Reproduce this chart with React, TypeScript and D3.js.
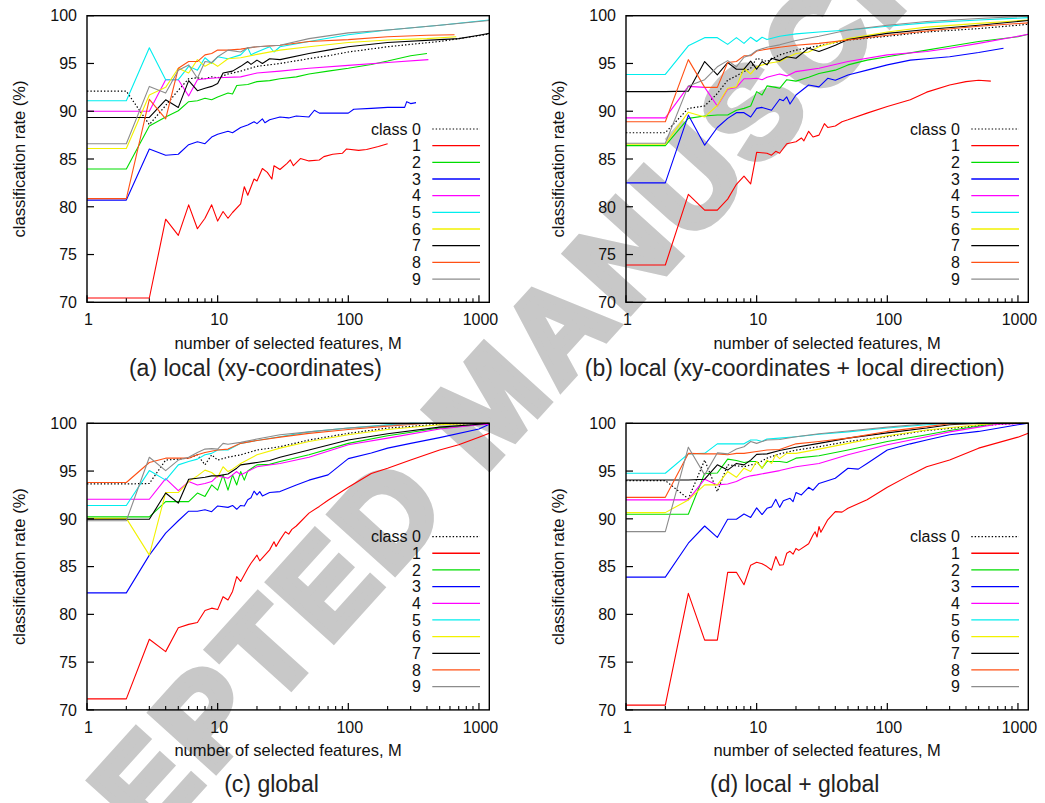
import React from "react";
import * as d3 from "d3";

type P = [number, number];

// ---------- Panel (a) local (xy-coordinates) ----------
const a0: P[] = [[1,92.1],[2,92.1],[3,88.6],[4,90.6],[5,92.2],[6,93.4],[7,93.5],[8,93.4],[9,93.6],[10,93.5],[12,93.9],[15,94.2],[20,94.7],[30,95.0],[50,95.5],[70,95.8],[100,96.2],[200,96.75],[300,97.0],[500,97.3],[1000,97.9],[1200,98.1]];
const a1: P[] = [[1,70.45],[2,70.45],[3,70.45],[4,78.7],[5,77.0],[6,80.2],[7,77.7],[8,78.8],[9,80.2],[10,78.5],[11,79.5],[12,78.8],[13,79.4],[15,80.3],[16,82.1],[17,81.2],[19,82.9],[20,82.7],[22,84.0],[24,83.6],[26,82.9],[27,84.3],[30,83.9],[34,84.55],[36,84.9],[38,84.3],[43,85.05],[50,84.8],[60,84.9],[65,85.25],[76,85.5],[90,85.6],[97,86.05],[120,85.9],[138,86.0],[170,86.3],[200,86.6]];
const a2: P[] = [[1,83.95],[2,83.95],[3,88.45],[4,89.4],[5,90.05],[6,91.0],[7,91.1],[8,91.35],[9,91.2],[10,91.5],[12,91.9],[13,91.8],[14,92.7],[17,92.8],[20,93.1],[25,93.2],[30,93.4],[40,93.6],[50,93.9],[70,94.2],[100,94.5],[150,94.9],[200,95.25],[300,95.8],[400,96.05]];
const a3: P[] = [[1,80.7],[2,80.7],[3,86.05],[4,85.4],[5,85.5],[6,86.5],[7,86.8],[8,86.6],[9,87.3],[10,87.6],[12,87.9],[13,87.75],[15,88.3],[17,88.55],[19,88.9],[20,88.7],[22,89.2],[23,88.8],[25,89.1],[30,89.4],[35,89.3],[40,89.5],[50,89.4],[55,90.1],[60,89.8],[100,89.8],[110,90.2],[150,90.3],[200,90.4],[270,90.4],[280,91.0],[300,90.8],[330,90.9]];
const a4: P[] = [[1,90.0],[2,90.0],[3,90.0],[4,93.3],[5,93.3],[6,91.6],[7,93.3],[8,93.4],[10,93.5],[15,93.6],[20,94.0],[30,94.2],[50,94.5],[100,94.8],[200,95.1],[410,95.4]];
const a5: P[] = [[1,91.1],[2,91.1],[3,96.65],[4,93.3],[5,93.3],[6,94.7],[7,94.3],[8,95.6],[9,95.0],[10,95.7],[12,95.5],[15,95.9],[17,96.65],[18,95.9],[20,96.2],[25,96.75],[27,96.2],[30,96.75],[50,97.3],[100,98.0],[200,98.5],[500,99.0],[1200,99.55]];
const a6: P[] = [[1,86.1],[2,86.1],[3,91.7],[4,92.5],[5,94.5],[6,94.0],[7,95.4],[8,94.7],[9,95.1],[10,94.7],[12,95.5],[15,95.6],[20,95.95],[30,96.4],[50,96.75],[100,97.2],[200,97.45],[400,97.6],[670,97.8]];
const a7: P[] = [[1,89.35],[2,89.35],[3,89.35],[4,91.2],[5,90.4],[6,93.2],[7,92.15],[8,92.4],[9,92.6],[10,92.9],[11,94.0],[13,94.2],[15,94.7],[17,95.2],[18,94.9],[20,95.35],[22,95.0],[25,95.5],[30,95.4],[50,96.05],[70,96.4],[100,96.75],[200,97.2],[500,97.5],[700,97.6],[1000,97.95],[1200,98.15]];
const a8: P[] = [[1,80.85],[2,80.85],[3,91.25],[4,89.2],[5,94.5],[6,95.2],[7,95.2],[8,95.9],[9,96.05],[10,96.4],[12,96.4],[15,96.5],[20,96.75],[30,96.9],[50,97.3],[100,97.5],[200,97.8],[400,97.95],[650,98.0]];
const a9: P[] = [[1,86.6],[2,86.6],[3,92.6],[4,91.9],[5,94.3],[6,94.85],[7,93.45],[8,95.2],[9,95.1],[10,95.7],[12,96.4],[15,96.2],[17,96.65],[20,96.75],[30,96.9],[50,97.6],[100,98.2],[200,98.5],[500,99.0],[1200,99.5]];

// ---------- Panel (b) local (xy-coordinates + local direction) ----------
const b0: P[] = [[1,87.75],[2,87.75],[3,90.3],[4,90.55],[5,91.85],[6,93.25],[7,93.7],[8,94.15],[9,94.5],[10,95.55],[12,95.2],[15,95.9],[20,96.4],[30,96.85],[50,97.45],[100,97.85],[200,98.3],[500,98.65],[1200,99.1]];
const b1: P[] = [[1,73.9],[2,73.9],[3,81.3],[4,79.65],[5,79.65],[6,80.8],[7,82.35],[8,83.2],[9,82.4],[10,85.7],[12,85.6],[13,85.4],[14,85.8],[15,85.6],[17,86.6],[20,86.8],[22,87.2],[23,86.9],[25,87.9],[27,87.3],[30,87.5],[33,88.7],[35,88.3],[40,88.45],[45,88.9],[50,89.1],[70,89.8],[100,90.5],[150,91.2],[200,92.0],[300,92.75],[400,93.1],[500,93.25],[620,93.15]];
const b2: P[] = [[1,86.4],[2,86.4],[3,89.25],[4,89.5],[5,89.6],[6,89.6],[7,90.1],[8,90.3],[9,90.55],[10,92.05],[11,91.7],[12,92.65],[14,92.5],[15,92.4],[17,93.3],[20,93.15],[25,93.55],[30,93.95],[40,94.3],[50,94.85],[70,95.35],[100,95.7],[200,96.4],[300,96.8],[500,97.3],[1000,97.8],[1200,98.05]];
const b3: P[] = [[1,82.5],[2,82.5],[3,89.6],[4,86.45],[5,88.3],[6,89.25],[7,89.85],[8,89.85],[9,89.4],[10,90.3],[11,90.4],[13,90.1],[15,91.25],[16,91.1],[17,91.5],[18,90.75],[20,91.7],[25,92.75],[30,92.55],[35,93.45],[40,93.25],[50,93.8],[70,94.3],[100,94.85],[150,95.35],[200,95.5],[300,95.7],[500,96.15],[775,96.6]];
const b4: P[] = [[1,89.3],[2,89.3],[3,92.6],[4,92.5],[5,90.55],[6,92.3],[7,92.5],[8,93.4],[9,93.4],[10,93.45],[11,93.3],[12,93.55],[15,93.9],[17,93.7],[20,94.15],[30,94.5],[50,95.2],[100,95.9],[200,96.25],[300,96.6],[500,97.1],[1200,98.05]];
const b5: P[] = [[1,93.85],[2,93.85],[3,96.85],[4,97.7],[5,97.7],[6,97.0],[7,97.7],[8,97.1],[9,97.75],[10,97.3],[11,97.75],[12,97.5],[15,97.85],[20,98.1],[30,98.3],[50,98.5],[100,98.9],[200,99.25],[500,99.55],[1200,99.8]];
const b6: P[] = [[1,86.55],[2,86.55],[3,89.9],[4,89.4],[5,90.6],[6,92.4],[7,92.55],[8,94.5],[9,93.9],[10,94.65],[12,95.0],[15,95.2],[17,95.6],[20,96.05],[25,96.2],[30,96.75],[50,97.6],[100,98.3],[200,98.8],[500,99.2],[1200,99.55]];
const b7: P[] = [[1,92.05],[2,92.05],[3,92.1],[4,95.2],[5,93.8],[6,95.1],[7,94.4],[8,94.4],[9,95.25],[10,94.4],[11,95.2],[12,94.85],[13,95.55],[15,95.3],[17,95.7],[20,95.55],[25,96.6],[30,96.25],[35,96.6],[40,96.9],[50,97.5],[100,98.15],[200,98.55],[500,99.0],[1200,99.5]];
const b8: P[] = [[1,88.9],[2,88.9],[3,95.4],[4,92.5],[5,92.5],[6,95.1],[7,95.2],[8,95.8],[9,95.8],[10,96.3],[12,96.5],[15,96.7],[20,96.9],[30,97.1],[50,97.45],[100,97.95],[200,98.4],[500,98.9],[1200,99.25]];
const b9: P[] = [[1,86.65],[2,86.65],[3,92.65],[4,93.3],[5,94.65],[6,95.3],[7,94.65],[8,95.65],[9,95.9],[10,96.35],[12,96.7],[15,96.95],[20,97.4],[30,97.85],[50,98.5],[100,99.0],[200,99.4],[500,99.7],[1200,99.95]];

// ---------- Panel (c) global ----------
const c0: P[] = [[1,93.65],[2,93.65],[3,93.7],[4,96.15],[5,96.25],[6,96.35],[7,96.7],[8,95.65],[9,96.7],[10,96.15],[12,96.45],[15,96.7],[20,97.2],[30,97.55],[50,98.25],[100,98.95],[200,99.5],[500,99.9],[1200,100]];
const c1: P[] = [[1,71.15],[2,71.15],[3,77.4],[4,76.1],[5,78.6],[6,78.95],[7,79.15],[8,80.4],[9,80.65],[10,80.5],[11,81.85],[12,81.5],[13,82.4],[14,83.95],[15,83.45],[17,84.8],[18,85.35],[20,86.2],[21,85.6],[25,86.75],[27,87.6],[28,87.1],[30,87.8],[33,88.65],[35,88.4],[37,88.9],[40,89.25],[50,90.6],[60,91.3],[70,91.95],[100,93.3],[150,94.75],[200,95.3],[300,96.15],[500,97.2],[700,97.75],[1000,98.55],[1200,98.95]];
const c2: P[] = [[1,90.2],[2,90.2],[3,90.2],[4,91.8],[5,91.8],[6,91.8],[7,92.7],[8,92.35],[9,93.55],[10,93.0],[11,94.6],[12,93.0],[13,94.6],[14,93.55],[15,94.95],[16,94.05],[17,95.0],[20,95.65],[25,95.7],[30,96.0],[50,96.7],[100,97.9],[200,98.7],[500,99.5],[1000,99.85],[1200,99.9]];
const c3: P[] = [[1,82.25],[2,82.25],[3,86.2],[4,88.5],[5,89.8],[6,90.8],[7,90.8],[8,90.95],[9,90.75],[10,91.35],[12,91.2],[13,91.4],[14,91.0],[15,91.4],[16,91.35],[17,92.0],[18,92.2],[19,92.9],[20,92.5],[21,92.85],[22,92.4],[25,92.75],[30,92.85],[40,93.55],[50,94.05],[70,94.6],[100,96.3],[150,96.9],[200,97.4],[300,97.9],[500,98.5],[1000,99.4],[1200,99.9]];
const c4: P[] = [[1,92.05],[2,92.05],[3,92.05],[4,94.2],[5,92.95],[6,93.9],[7,93.55],[8,93.7],[9,93.9],[10,94.5],[12,94.25],[13,94.6],[14,94.95],[15,94.6],[20,95.45],[30,95.8],[50,96.45],[100,97.75],[200,98.45],[500,99.4],[1000,99.85],[1200,99.9]];
const c5: P[] = [[1,91.4],[2,91.4],[3,95.05],[4,94.05],[5,95.65],[6,96.0],[7,96.25],[8,96.7],[9,96.85],[10,97.2],[12,97.2],[15,97.9],[20,98.2],[30,98.6],[50,99.1],[100,99.5],[200,99.85],[300,100],[1200,100]];
const c6: P[] = [[1,90.05],[2,90.05],[3,86.2],[4,92.75],[5,92.75],[6,93.9],[7,94.5],[8,95.1],[9,94.85],[10,94.35],[11,95.45],[12,94.95],[13,95.2],[15,95.8],[20,96.7],[30,97.4],[50,98.1],[100,98.8],[200,99.35],[500,99.85],[1000,100],[1200,100]];
const c7: P[] = [[1,89.95],[2,89.95],[3,89.95],[4,92.7],[5,91.65],[6,94.15],[7,94.25],[8,94.35],[9,94.5],[10,94.5],[12,94.7],[14,95.3],[15,95.65],[20,95.9],[25,96.1],[30,96.45],[50,97.2],[100,98.25],[200,98.9],[500,99.6],[1000,99.9],[1200,100]];
const c8: P[] = [[1,93.8],[2,93.8],[3,95.9],[4,96.35],[5,96.35],[6,96.35],[7,96.7],[8,96.95],[10,97.2],[12,97.3],[15,97.9],[20,98.2],[30,98.55],[50,98.95],[100,99.35],[200,99.7],[400,100],[1200,100]];
const c9: P[] = [[1,89.8],[2,89.8],[3,96.45],[4,95.05],[5,96.15],[6,96.45],[7,96.95],[8,97.3],[9,97.35],[10,97.3],[11,97.9],[12,97.8],[15,98.0],[20,98.35],[30,98.8],[50,99.1],[100,99.5],[200,99.8],[400,100],[1200,100]];

// ---------- Panel (d) local + global ----------
const d0: P[] = [[1,94.0],[2,94.0],[3,92.1],[4,96.15],[5,92.85],[6,95.65],[7,95.55],[8,95.45],[9,95.65],[10,95.75],[12,96.35],[15,96.8],[20,97.2],[30,97.55],[50,98.1],[100,98.6],[200,99.25],[500,99.75],[1000,100],[1200,100]];
const d1: P[] = [[1,70.5],[2,70.5],[3,82.2],[4,77.3],[5,77.3],[6,84.4],[7,84.4],[8,83.1],[9,85.15],[10,85.45],[11,85.3],[12,85.0],[13,84.65],[14,86.05],[15,85.15],[16,85.2],[17,86.4],[18,86.6],[19,86.3],[20,86.9],[21,86.7],[25,87.4],[27,88.3],[28,88.65],[29,88.1],[30,89.2],[31,88.6],[35,89.9],[40,90.75],[45,90.7],[50,91.1],[70,92.0],[100,93.3],[150,94.6],[200,95.45],[300,96.15],[500,97.4],[1000,98.55],[1200,98.95]];
const d2: P[] = [[1,90.48],[2,90.48],[3,90.48],[4,94.75],[5,94.8],[6,96.25],[7,96.1],[8,95.9],[9,96.0],[10,96.0],[11,95.3],[12,96.0],[15,96.0],[17,95.9],[20,96.35],[30,96.6],[50,97.2],[100,98.1],[200,98.8],[300,99.25],[500,99.7],[700,100],[1200,100]];
const d3s: P[] = [[1,83.9],[2,83.9],[3,87.45],[4,89.25],[5,88.05],[6,89.95],[7,89.95],[8,90.5],[9,90.15],[10,91.15],[11,90.45],[12,91.1],[13,91.25],[14,92.05],[15,91.2],[16,91.9],[18,92.15],[19,91.8],[20,92.75],[22,92.5],[25,93.3],[27,93.0],[30,93.7],[40,94.25],[50,95.3],[60,95.2],[70,95.8],[100,97.2],[150,97.85],[200,98.25],[300,98.8],[500,99.15],[1000,99.85],[1200,100]];
const d4: P[] = [[1,91.98],[2,91.98],[3,91.98],[4,94.15],[5,93.55],[6,93.65],[7,93.9],[8,94.3],[9,94.5],[10,94.6],[15,95.05],[20,95.45],[30,95.8],[50,96.7],[100,97.75],[200,98.6],[300,99.1],[500,99.6],[700,99.9],[1200,100]];
const d5: P[] = [[1,94.77],[2,94.77],[3,96.8],[4,96.85],[5,97.85],[6,97.85],[7,97.85],[8,97.85],[9,98.25],[10,98.25],[11,98.1],[12,98.35],[15,98.45],[20,98.6],[30,98.85],[50,99.1],[100,99.5],[200,99.85],[300,100],[1200,100]];
const d6: P[] = [[1,90.65],[2,90.65],[3,91.98],[4,93.55],[5,93.55],[6,94.95],[7,94.35],[8,95.3],[9,94.95],[10,96.0],[11,95.3],[12,96.15],[13,95.8],[14,96.7],[15,96.3],[17,96.85],[20,96.85],[30,97.3],[50,97.9],[100,98.7],[200,99.3],[500,99.85],[700,100],[1200,100]];
const d7: P[] = [[1,94.07],[2,94.07],[3,94.07],[4,94.15],[5,95.65],[6,95.1],[7,95.8],[8,95.65],[9,96.15],[10,96.75],[12,96.8],[15,97.15],[20,97.5],[30,97.9],[50,98.45],[100,99.0],[200,99.5],[300,99.85],[500,100],[1200,100]];
const d8: P[] = [[1,92.25],[2,92.25],[3,96.85],[4,96.8],[5,96.8],[6,96.7],[7,96.85],[8,96.85],[10,97.05],[12,97.2],[15,97.25],[20,97.85],[30,98.1],[50,98.45],[100,99.15],[200,99.65],[300,99.95],[1200,100]];
const d9: P[] = [[1,88.66],[2,88.66],[3,97.5],[4,94.6],[5,96.9],[6,96.8],[7,97.3],[8,97.55],[9,98.1],[10,97.9],[11,98.1],[12,98.25],[15,98.3],[20,98.6],[30,98.9],[50,99.2],[100,99.6],[200,99.95],[1200,100]];

const CLASS_LABELS = ["class 0", "1", "2", "3", "4", "5", "6", "7", "8", "9"];
const COLORS = ["#000000", "#ff0000", "#00dd00", "#0000ff", "#ff00ff", "#00eeee", "#f2f200", "#000000", "#ff5014", "#8c8c8c"];
const X_TICKS = [1, 10, 100, 1000];
const X_MINOR = [2, 3, 4, 5, 6, 7, 8, 9, 20, 30, 40, 50, 60, 70, 80, 90, 200, 300, 400, 500, 600, 700, 800, 900];
const Y_TICKS = [70, 75, 80, 85, 90, 95, 100];
const X_DOMAIN: [number, number] = [1, 1200];
const Y_DOMAIN: [number, number] = [70, 100];
const X_LABEL = "number of selected features, M";
const Y_LABEL = "classification rate (%)";
const WATERMARK = "ACCEPTED MANUSCRIPT";

const PANELS = [
  { series: [a0, a1, a2, a3, a4, a5, a6, a7, a8, a9], left: 87, top: 15.7, caption: "(a) local (xy-coordinates)", capX: 255.5, capY: 376 },
  { series: [b0, b1, b2, b3, b4, b5, b6, b7, b8, b9], left: 626, top: 15.7, caption: "(b) local (xy-coordinates + local direction)", capX: 794.7, capY: 376 },
  { series: [c0, c1, c2, c3, c4, c5, c6, c7, c8, c9], left: 87, top: 423.3, caption: "(c) global", capX: 271.5, capY: 791.5 },
  { series: [d0, d1, d2, d3s, d4, d5, d6, d7, d8, d9], left: 626, top: 423.3, caption: "(d) local + global", capX: 794.7, capY: 791.5 },
];

const W = 402.3;
const H = 286.6;
const FONT = "'Liberation Sans', Arial, Helvetica, sans-serif";

function Panel({ p }: { p: (typeof PANELS)[number] }) {
  const x = d3.scaleLog().domain(X_DOMAIN).range([p.left, p.left + W]);
  const y = d3.scaleLinear().domain(Y_DOMAIN).range([p.top + H, p.top]);
  const line = d3.line<P>().x((d) => x(d[0])).y((d) => y(d[1]));
  const right = p.left + W;
  const bottom = p.top + H;
  return (
    <g>
      {p.series.map((s, i) => (
        <path
          key={i}
          d={line(s) || ""}
          fill="none"
          stroke={COLORS[i]}
          strokeWidth={i === 0 ? 1.2 : 1.1}
          strokeDasharray={i === 0 ? "1.4,2" : undefined}
          strokeLinejoin="round"
        />
      ))}
      <rect x={p.left} y={p.top} width={W} height={H} fill="none" stroke="#000" strokeWidth={1.4} />
      {Y_TICKS.map((t) => (
        <g key={"y" + t}>
          <line x1={p.left} x2={p.left + 7} y1={y(t)} y2={y(t)} stroke="#000" strokeWidth={1.2} />
          <text x={p.left - 10} y={y(t)} dy="0.36em" textAnchor="end" fontSize={16} fontFamily={FONT} fill="#111">
            {t}
          </text>
        </g>
      ))}
      {X_TICKS.map((t) => (
        <g key={"x" + t}>
          <line x1={x(t)} x2={x(t)} y1={bottom} y2={bottom - 7} stroke="#000" strokeWidth={1.2} />
          <text x={x(t) + 1.5} y={bottom + 23} textAnchor="middle" fontSize={16} fontFamily={FONT} fill="#111">
            {t}
          </text>
        </g>
      ))}
      {X_MINOR.map((t) => (
        <line key={"m" + t} x1={x(t)} x2={x(t)} y1={bottom} y2={bottom - 4} stroke="#000" strokeWidth={1.1} />
      ))}
      <text x={p.left + W / 2} y={bottom + 46.5} textAnchor="middle" fontSize={16.5} fontFamily={FONT} fill="#111">
        {X_LABEL}
      </text>
      <text
        transform={`translate(${p.left - 62},${p.top + H / 2}) rotate(-90)`}
        textAnchor="middle"
        fontSize={16.5}
        fontFamily={FONT}
        fill="#111"
      >
        {Y_LABEL}
      </text>
      {CLASS_LABELS.map((lab, i) => {
        const ly = p.top + 113.3 + i * 16.67;
        return (
          <g key={"l" + i}>
            <text x={right - 68.5} y={ly} dy="0.36em" textAnchor="end" fontSize={16} fontFamily={FONT} fill="#111">
              {lab}
            </text>
            <line
              x1={right - 57}
              x2={right - 9.3}
              y1={ly}
              y2={ly}
              stroke={COLORS[i]}
              strokeWidth={i === 0 ? 1.2 : 1.3}
              strokeDasharray={i === 0 ? "1.4,2" : undefined}
            />
          </g>
        );
      })}
      <text x={p.capX} y={p.capY} textAnchor="middle" fontSize={23} fontFamily={FONT} fill="#222">
        {p.caption}
      </text>
    </g>
  );
}

export default function App() {
  return (
    <svg
      width={1045}
      height={803}
      viewBox="0 0 1045 803"
      style={{ position: "absolute", left: 0, top: 0, background: "#fff" }}
    >
      <rect x={0} y={0} width={1045} height={803} fill="#fff" />
      <text
        transform="translate(-48.7,1062.7) rotate(-47.9)"
        fontSize={125}
        fontWeight="bold"
        fontFamily={FONT}
        letterSpacing={8}
        fill="#c8c8c8"
        stroke="#c8c8c8"
        strokeWidth={8}
        strokeLinejoin="miter"
      >
        {WATERMARK}
      </text>
      {PANELS.map((p, i) => (
        <Panel key={i} p={p} />
      ))}
    </svg>
  );
}
